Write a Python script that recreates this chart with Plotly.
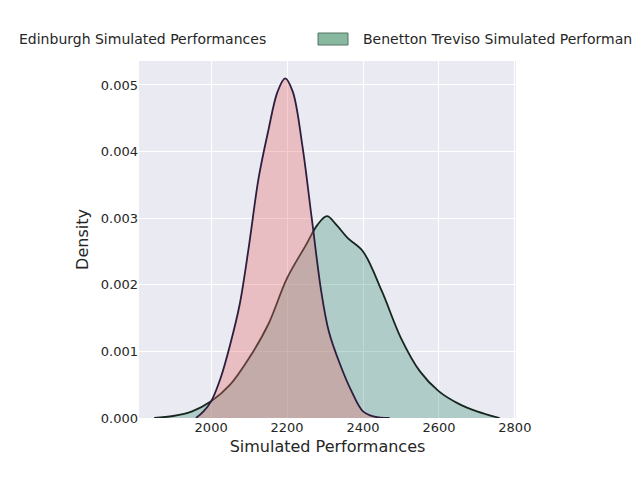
import plotly.graph_objects as go

edi_x = [1960,1980,2000,2025,2050,2075,2100,2125,2150,2175,2195,2215,2240,2265,2290,2310,2340,2370,2400,2430,2470]
edi_y = [0,0.0001,0.00025,0.0006,0.0011,0.0017,0.0026,0.0036,0.0043,0.0049,0.0051,0.0049,0.0041,0.0030,0.0019,0.0013,0.0008,0.0004,0.0001,0.00002,0]
ben_x = [1850,1900,1950,2000,2050,2100,2150,2200,2250,2280,2305,2330,2360,2400,2450,2500,2550,2600,2650,2700,2760]
ben_y = [0,0.00003,0.0001,0.00025,0.0005,0.0009,0.0014,0.0021,0.0026,0.0029,0.00303,0.0029,0.0027,0.0025,0.0019,0.0012,0.0007,0.0004,0.00022,0.0001,0]
names = ["Edinburgh Simulated Performances", "Benetton Treviso Simulated Performances"]

L, T, W, H = 131, 53, 377, 357
def px(x): return (x - L) / W
def py(y): return (T + H - y) / H

fig = go.Figure()
fig.add_trace(go.Scatter(x=ben_x, y=ben_y, mode="lines", fill="tozeroy", name=names[1], showlegend=False,
    line=dict(color="#16261c", width=1.8, shape="spline"), fillcolor="rgba(70,150,125,0.35)"))
fig.add_trace(go.Scatter(x=edi_x, y=edi_y, mode="lines", fill="tozeroy", name=names[0], showlegend=False,
    line=dict(color="#2d1e3e", width=1.8, shape="spline"), fillcolor="rgba(232,110,110,0.35)"))

shapes = [
    dict(type="rect", xref="paper", yref="paper", x0=px(-30), x1=px(-2), y0=py(37), y1=py(25),
         fillcolor="#e8a0a0", line=dict(color="#7a5a5a", width=1)),
    dict(type="rect", xref="paper", yref="paper", x0=px(310), x1=px(340), y0=py(37), y1=py(25),
         fillcolor="#88b8a0", line=dict(color="#557565", width=1)),
]
ann = [
    dict(text=names[0], xref="paper", yref="paper", x=px(9), y=py(31), xanchor="left", yanchor="middle",
         showarrow=False, font=dict(size=14)),
    dict(text=names[1], xref="paper", yref="paper", x=px(353), y=py(31), xanchor="left", yanchor="middle",
         showarrow=False, font=dict(size=14)),
]

fig.update_layout(
    width=640, height=480, paper_bgcolor="white", plot_bgcolor="#eaeaf2",
    margin=dict(l=L, r=640 - L - W, t=T, b=480 - T - H, autoexpand=False),
    font=dict(family="DejaVu Sans", size=13, color="#262626"),
    shapes=shapes, annotations=ann, showlegend=False,
    xaxis=dict(range=[1810, 2803], tickvals=[2000,2200,2400,2600,2800], gridcolor="white", zeroline=False,
               title=dict(text="Simulated Performances", font=dict(size=16), standoff=6), showline=False, ticks=""),
    yaxis=dict(range=[0, 0.00536], tickvals=[0,0.001,0.002,0.003,0.004,0.005], tickformat=".3f", gridcolor="white",
               zeroline=False, title=dict(text="Density", font=dict(size=16), standoff=8), ticks=""),
)
fig.write_html("out.html")
